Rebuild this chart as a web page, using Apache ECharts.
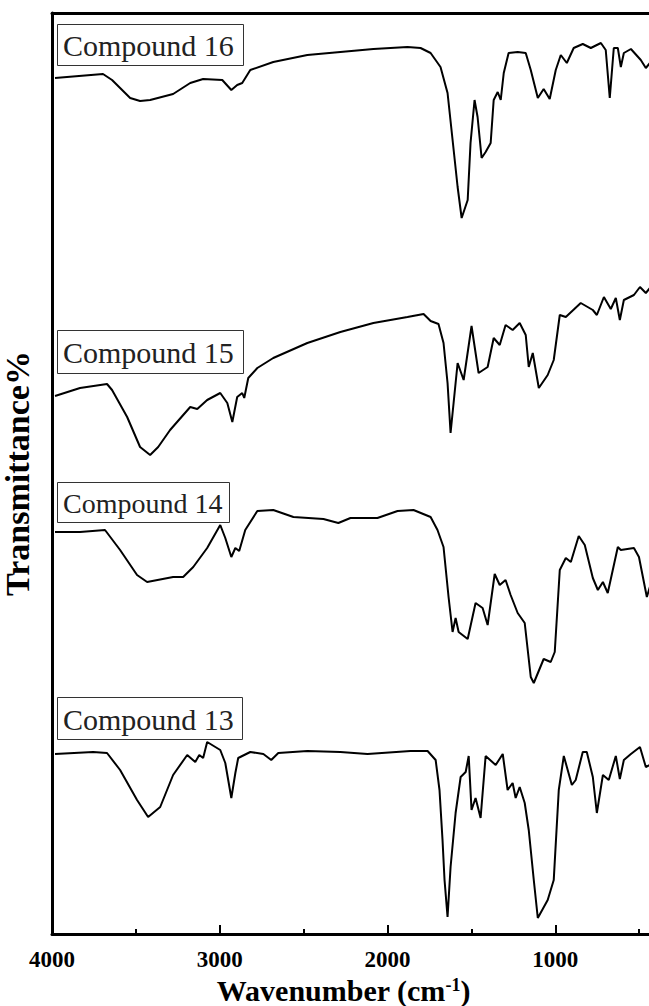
<!DOCTYPE html>
<html>
<head>
<meta charset="utf-8">
<script src="https://cdn.jsdelivr.net/npm/echarts@6/dist/echarts.min.js"></script>
<style>
html,body{margin:0;padding:0;background:#fff;}
#chart{width:649px;height:1006px;}
</style>
</head>
<body>
<div id="chart"></div>
<script>
// Wavenumber (cm-1) and offset transmittance (arbitrary units)
var compound16 = [
[3982,856],[3696,860],[3642,854],[3594,846],[3534,836],[3475,833],[3415,834],[3278,840],[3176,851],[3099,855],
[2985,854],[2931,844],[2896,849],[2866,851],[2818,864],[2681,872],[2478,879],[2281,882],[2084,885],[1881,887],
[1803,886],[1743,881],[1684,867],[1642,841],[1612,794],[1582,747],[1558,716],[1522,734],[1505,791],[1481,834],
[1463,817],[1439,776],[1415,782],[1385,791],[1367,834],[1343,842],[1325,834],[1307,861],[1278,881],[1224,882],
[1176,881],[1146,864],[1104,836],[1069,845],[1033,835],[997,864],[967,879],[931,871],[890,886],[836,890],
[788,886],[728,891],[699,884],[675,836],[651,886],[627,886],[609,867],[591,881],[549,885],[490,874],[460,866],[436,871]
];
var compound15 = [
[3982,538],[3833,546],[3672,550],[3642,544],[3552,517],[3475,487],[3415,479],[3367,487],[3296,504],[3176,527],
[3134,525],[3075,534],[2997,541],[2955,531],[2925,512],[2896,537],[2866,541],[2854,536],[2830,556],[2776,566],
[2681,576],[2478,591],[2281,602],[2084,611],[1881,617],[1785,620],[1743,613],[1696,610],[1666,591],[1642,551],
[1624,501],[1606,531],[1582,571],[1546,554],[1499,608],[1457,561],[1403,567],[1367,596],[1331,589],[1296,609],
[1254,604],[1212,611],[1176,599],[1158,567],[1134,581],[1098,546],[1045,559],[1009,574],[973,619],[937,617],
[848,631],[776,624],[752,619],[710,637],[669,625],[639,636],[615,614],[591,634],[531,639],[495,647],[460,641],[436,646]
];
var compound14 = [
[3982,402],[3833,402],[3684,404],[3594,384],[3493,359],[3433,352],[3278,357],[3218,357],[3158,367],[3075,386],
[2997,409],[2967,396],[2931,377],[2907,386],[2884,383],[2848,404],[2776,423],[2681,424],[2561,417],[2382,415],
[2293,411],[2221,416],[2060,416],[1940,423],[1845,424],[1743,417],[1702,404],[1666,387],[1636,337],[1612,302],
[1594,316],[1576,302],[1522,295],[1475,331],[1433,326],[1403,309],[1361,360],[1331,349],[1296,354],[1266,339],
[1224,321],[1182,311],[1146,257],[1128,251],[1069,275],[1027,272],[1003,282],[973,364],[937,376],[907,372],
[860,398],[824,389],[776,356],[746,344],[716,352],[687,341],[627,387],[609,384],[531,386],[501,377],[454,337],[436,347]
];
var compound13 = [
[3982,180],[3755,182],[3672,181],[3594,164],[3493,134],[3427,117],[3355,127],[3278,159],[3194,179],[3146,172],
[3122,179],[3099,176],[3075,192],[2997,184],[2967,171],[2931,136],[2907,161],[2890,176],[2818,182],[2740,180],
[2693,174],[2651,181],[2478,183],[2281,182],[2119,180],[1863,183],[1761,183],[1713,174],[1690,144],[1672,94],
[1660,54],[1642,17],[1624,67],[1594,121],[1564,157],[1534,162],[1516,178],[1499,124],[1475,136],[1445,116],
[1415,178],[1355,169],[1313,180],[1284,144],[1254,151],[1236,136],[1212,147],[1182,131],[1158,104],[1128,54],
[1104,16],[1045,34],[1009,54],[979,144],[949,178],[901,149],[878,154],[836,182],[812,182],[776,157],
[752,121],[716,159],[681,154],[639,178],[615,155],[591,174],[549,180],[495,187],[460,167],[436,169]
];
var seriesNames = ['Compound 16','Compound 15','Compound 14','Compound 13'];
var xTickValues = [1000, 2000, 3000, 4000];

var serif = "'Liberation Serif','Times New Roman',serif";
var chart = echarts.init(document.getElementById('chart'), null, {renderer:'svg'});

var dataSets = [compound16, compound15, compound14, compound13];
var labelBoxes = [
  {x:57, y:24, w:186, h:41, fs:30},
  {x:57, y:330, w:186, h:43, fs:30},
  {x:57, y:482, w:172, h:40, fs:28},
  {x:57, y:697, w:185, h:42, fs:30}
];
var graphics = [];
labelBoxes.forEach(function(b, i){
  graphics.push({type:'rect', left:b.x, top:b.y, shape:{width:b.w, height:b.h},
    style:{fill:'#fff', stroke:'#333', lineWidth:1}, z:100});
  graphics.push({type:'text', left:b.x+6, top:b.y+(b.h-b.fs)/2+1, z:101,
    style:{text:seriesNames[i], font:'normal '+b.fs+'px '+serif, fill:'#222'}});
});

chart.setOption({
  animation:false,
  backgroundColor:'#fff',
  grid:{left:52, top:13, width:671, height:921, outerBoundsMode:'none', containLabel:false},
  xAxis:[{
    type:'value', min:0, max:4000, interval:1000, inverse:true,
    axisLine:{show:true, onZero:false, lineStyle:{color:'#000', width:3}},
    axisTick:{show:true, inside:true, length:9, lineStyle:{color:'#000', width:2}},
    minorTick:{show:true, splitNumber:2, length:5, lineStyle:{color:'#000', width:2}},
    splitLine:{show:false},
    axisLabel:{margin:14, fontFamily:serif, fontWeight:'bold', fontSize:23, color:'#000',
      formatter:function(v){ return xTickValues.indexOf(v) >= 0 ? String(v) : ''; }},
    name:'Wavenumber (cm{sup|-1})',
    nameLocation:'middle', nameGap:37,
    nameTextStyle:{fontFamily:serif, fontWeight:'bold', fontSize:30, color:'#000',
      padding:[0,88,0,0],
      rich:{sup:{fontFamily:serif, fontWeight:'bold', fontSize:18, verticalAlign:'top', lineHeight:18, color:'#000'}}}
  },{
    type:'value', position:'top', min:0, max:4000, inverse:true,
    axisLine:{show:true, onZero:false, lineStyle:{color:'#000', width:3}},
    axisTick:{show:false}, axisLabel:{show:false}, splitLine:{show:false}
  }],
  yAxis:{
    type:'value', min:0, max:921,
    axisLine:{show:true, onZero:false, lineStyle:{color:'#000', width:3}},
    axisTick:{show:false}, axisLabel:{show:false}, splitLine:{show:false},
    name:'Transmittance%', nameLocation:'middle', nameGap:18, nameRotate:90,
    nameTextStyle:{fontFamily:serif, fontWeight:'bold', fontSize:34, color:'#000'}
  },
  series: dataSets.map(function(d, i){
    return {type:'line', name:seriesNames[i], data:d, xAxisIndex:0, showSymbol:false,
      lineStyle:{color:'#000', width:2}, itemStyle:{color:'#000'}, clip:true};
  }),
  graphic: graphics
});
</script>
</body>
</html>
